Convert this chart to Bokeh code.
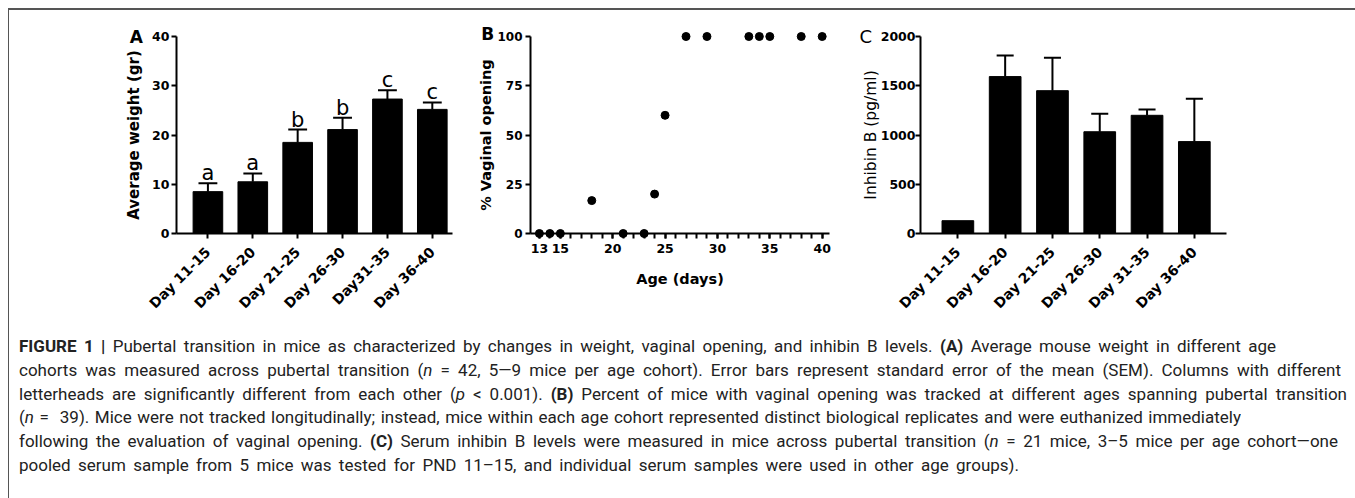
import math
from bokeh.plotting import figure
from bokeh.models import Range1d, FixedTicker, Div
from bokeh.layouts import row, column
from bokeh.embed import file_html
from bokeh.resources import INLINE
from bokeh.core.properties import value

# ---------------- data ----------------
weight_cohorts = ["Day 11-15", "Day 16-20", "Day 21-25", "Day 26-30", "Day31-35", "Day 36-40"]
weight_mean = [8.5, 10.5, 18.5, 21.1, 27.3, 25.2]
weight_sem = [1.7, 1.7, 2.6, 2.4, 1.8, 1.4]
weight_letters = ["a", "a", "b", "b", "c", "c"]
weight_yticks = [0, 10, 20, 30, 40]

vo_age = [13, 14, 15, 18, 21, 23, 24, 25, 27, 29, 33, 34, 35, 38, 40]
vo_pct = [0, 0, 0, 16.7, 0, 0, 20, 60, 100, 100, 100, 100, 100, 100, 100]
vo_xticks = [13, 15, 20, 25, 30, 35, 40]
vo_minor = list(range(13, 41))
vo_yticks = [0, 25, 50, 75, 100]

inh_cohorts = ["Day 11-15", "Day 16-20", "Day 21-25", "Day 26-30", "Day 31-35", "Day 36-40"]
inh_mean = [130, 1593, 1450, 1033, 1200, 933]
inh_sem = [0, 214, 333, 184, 60, 434]
inh_yticks = [0, 500, 1000, 1500, 2000]

FONT = "DejaVu Sans"
H = 320


def style(p):
    p.outline_line_color = None
    p.grid.visible = False
    for ax in p.axis:
        ax.axis_line_width = 2
        ax.axis_line_color = "black"
        ax.major_tick_line_width = 2
        ax.major_tick_line_color = "black"
        ax.major_tick_out = 5
        ax.major_tick_in = 0
        ax.minor_tick_line_color = None
        ax.major_label_standoff = 2
        ax.major_label_text_font = FONT
        ax.major_label_text_font_style = "bold"
        ax.major_label_text_font_size = "12.5px"
        ax.major_label_text_color = "black"
        ax.axis_label_text_font = FONT
        ax.axis_label_text_font_style = "bold"
        ax.axis_label_text_font_size = "15px"
        ax.axis_label_text_color = "black"


def panel_letter(p, x, y, letter, size, weight):
    p.text(x=[x], y=[y], text=[letter], text_align="left", text_baseline="middle",
           text_font=value(FONT), text_font_size=size, text_font_style=weight,
           text_color="black", level="overlay")


def bar_panel(cats, means, sems, xr, yr, yticks, ylabel, width, mbl, mbr, mbt, fh, cap_half, bar_w):
    p = figure(width=width, height=H, x_range=Range1d(*xr), y_range=Range1d(*yr),
               output_backend="svg", toolbar_location=None,
               min_border_left=mbl, min_border_right=mbr, min_border_top=mbt,
               min_border_bottom=H - mbt - fh)
    xs = list(range(len(cats)))
    p.vbar(x=xs, top=means, width=bar_w, fill_color="black", line_color="black")
    ex = [x for x, s in zip(xs, sems) if s > 0]
    eb = [m for m, s in zip(means, sems) if s > 0]
    et = [m + s for m, s in zip(means, sems) if s > 0]
    p.segment(x0=ex, y0=eb, x1=ex, y1=et, line_width=2, line_color="black")
    p.segment(x0=[x - cap_half for x in ex], y0=et, x1=[x + cap_half for x in ex], y1=et,
              line_width=2, line_color="black")
    style(p)
    p.xaxis.ticker = FixedTicker(ticks=xs)
    p.xaxis.major_label_overrides = {i: c for i, c in enumerate(cats)}
    p.xaxis.major_label_orientation = math.pi / 4
    p.xaxis.major_label_standoff = 11
    p.xaxis.major_label_text_font_size = "14px"
    p.yaxis.ticker = FixedTicker(ticks=yticks)
    p.yaxis.axis_label = ylabel
    return p, xs


# ---------------- panel A ----------------
pA, xa = bar_panel(weight_cohorts, weight_mean, weight_sem, (-0.70, 5.45), (0, 40), weight_yticks,
                   "Average weight (gr)", 461, 167, 18, 22, 201, 0.21, 0.66)
pA.yaxis.axis_label_standoff = 6
tops_a = [m + s for m, s in zip(weight_mean, weight_sem)]
pA.text(x=xa, y=tops_a, text=weight_letters, text_align="center", text_baseline="alphabetic",
        y_offset=-10, text_font=value(FONT), text_font_size="21px", text_color="black")
panel_letter(pA, -1.74, 39.9, "A", "17px", "bold")

# ---------------- panel B ----------------
pB = figure(width=380, height=H, x_range=Range1d(12.15, 40.7), y_range=Range1d(0, 100),
            output_backend="svg", toolbar_location=None,
            min_border_left=60, min_border_right=21, min_border_top=26, min_border_bottom=96)
pB.scatter(vo_age, vo_pct, size=8, fill_color="black", line_color="black", level="overlay")
style(pB)
pB.xaxis.ticker = FixedTicker(ticks=vo_xticks, minor_ticks=vo_minor)
pB.xaxis.minor_tick_line_color = "black"
pB.xaxis.minor_tick_line_width = 2
pB.xaxis.minor_tick_out = 5
pB.xaxis.minor_tick_in = 0
pB.xaxis.major_label_standoff = 5
pB.xaxis.axis_label = "Age (days)"
pB.xaxis.axis_label_standoff = 15
pB.yaxis.ticker = FixedTicker(ticks=vo_yticks)
pB.yaxis.major_label_text_font_size = "12px"
pB.yaxis.major_label_standoff = 3
pB.yaxis.axis_label = "% Vaginal opening"
pB.yaxis.axis_label_standoff = 0
pB.xaxis.axis_label_text_font_size = "14.5px"
pB.yaxis.axis_label_text_font_size = "14.5px"
panel_letter(pB, 7.45, 101.5, "B", "17px", "bold")

# ---------------- panel C ----------------
pC, xc = bar_panel(inh_cohorts, inh_mean, inh_sem, (-0.79, 5.68), (0, 2000), inh_yticks,
                   "Inhibin B (pg/ml)", 496, 70, 120, 23, 200, 0.18, 0.67)
pC.yaxis.axis_label_text_font_style = "normal"
pC.yaxis.axis_label_text_font_size = "15.5px"
pC.yaxis.major_label_standoff = 0
pC.yaxis.axis_label_standoff = -2
panel_letter(pC, -2.08, 1995, "C", "18px", "normal")

# ---------------- caption ----------------
caption_lines = [
    "<b>FIGURE 1 |</b> Pubertal transition in mice as characterized by changes in weight, vaginal opening, and inhibin B levels. <b>(A)</b> Average mouse weight in different age",
    "cohorts was measured across pubertal transition (<i>n</i> = 42, 5\u20149 mice per age cohort). Error bars represent standard error of the mean (SEM). Columns with different",
    "letterheads are significantly different from each other (<i>p</i> &lt; 0.001). <b>(B)</b> Percent of mice with vaginal opening was tracked at different ages spanning pubertal transition",
    "(<i>n</i> =&nbsp; 39). Mice were not tracked longitudinally; instead, mice within each age cohort represented distinct biological replicates and were euthanized immediately",
    "following the evaluation of vaginal opening. <b>(C)</b> Serum inhibin B levels were measured in mice across pubertal transition (<i>n</i> = 21 mice, 3\u20135 mice per age cohort\u2014one",
    "pooled serum sample from 5 mice was tested for PND 11\u201315, and individual serum samples were used in other age groups).",
]
line_widths = [1257, 1322, 1328, 1222, 1319, 1000]
line_divs = "".join(
    '<div style="width:%dpx; height:23.8px; overflow:hidden; text-align:justify; '
    'text-align-last:justify; white-space:normal;">%s</div>' % (w, t)
    for w, t in zip(line_widths, caption_lines))
cap_html = ('<div style="font-family: Roboto; font-size: 17px; line-height: 23.8px; '
            'color: #222; padding-left: 5px; padding-top: 0px;">' + line_divs + "</div>")
cap = Div(text=cap_html, width=1337, height=164)

layout = column(row(pA, pB, pC), cap,
                styles={"margin-left": "8px", "margin-top": "8px",
                        "border-top": "2px solid #555", "border-left": "1px solid #555"})

open("out.html", "w").write(file_html(layout, INLINE))
